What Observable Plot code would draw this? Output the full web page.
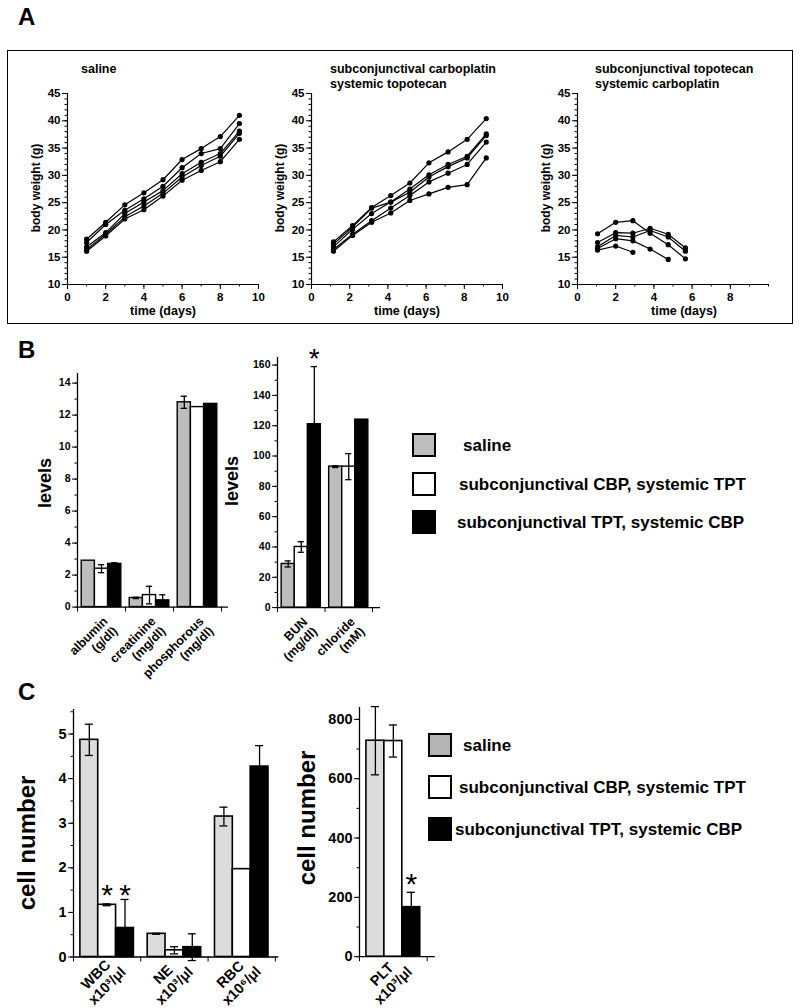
<!DOCTYPE html>
<html><head><meta charset="utf-8">
<script src="https://cdn.jsdelivr.net/npm/d3@7"></script>
<script src="https://cdn.jsdelivr.net/npm/@observablehq/plot@0.6"></script>
<style>
html,body{margin:0;padding:0;background:#fff;}
#root{position:relative;width:800px;height:1008px;overflow:hidden;background:#fff;color:#000;}
</style></head>
<body><div id="root"></div>
<script>
// ---------- DATA ----------
// Panel A: body weight (g) per mouse over time (days)
const salineDays = [1, 2, 3, 4, 5, 6, 7, 8, 9];
const salineWeights = [
  [18.3, 21.4, 24.6, 26.8, 29.2, 32.9, 34.9, 37.1, 41.0],
  [17.7, 21.0, 23.6, 25.7, 28.0, 31.4, 34.0, 34.9, 39.5],
  [16.9, 19.5, 23.0, 25.1, 27.2, 30.3, 32.4, 34.0, 38.1],
  [16.4, 19.2, 22.4, 24.4, 26.7, 29.7, 31.8, 33.5, 37.7],
  [16.1, 18.9, 22.0, 23.7, 26.2, 29.1, 30.9, 32.5, 36.6]
];
const cbpDays = [1.15, 2.15, 3.15, 4.15, 5.15, 6.15, 7.15, 8.15, 9.15];
const cbpWeights = [
  [17.8, 20.8, 24.1, 26.3, 28.6, 32.3, 34.3, 36.6, 40.4],
  [17.4, 20.5, 24.0, 25.1, 27.5, 30.1, 32.0, 33.5, 37.6],
  [16.9, 20.1, 23.0, 25.1, 26.9, 29.7, 31.6, 33.2, 37.3],
  [16.4, 19.2, 21.7, 24.0, 26.3, 28.8, 30.4, 32.0, 36.1],
  [16.1, 19.0, 21.4, 23.1, 25.4, 26.6, 27.8, 28.3, 33.2]
];
const tptDays = [1.05, 2.0, 2.9, 3.8, 4.75, 5.65];
const tptWeights = [
  [19.3, 21.4, 21.7, 19.4, 17.3, 14.7],
  [17.7, 19.5, 19.4, 20.3, 19.2, 16.7],
  [16.9, 19.0, 18.7, 19.9, 18.7, 16.1],
  [16.6, 18.4, 18.0, 16.5, 14.6],
  [16.3, 17.05, 15.9]
];
const panelATitles = [["saline"], ["subconjunctival carboplatin", "systemic topotecan"], ["subconjunctival topotecan", "systemic carboplatin"]];

// Panel B: serum chemistry
const chemLeftCats = ["albumin\n(g/dl)", "creatinine\n(mg/dl)", "phosphorous\n(mg/dl)"];
const chemLeftSaline = [2.9, 0.57, 12.8];
const chemLeftSalineErr = [0, 0.04, 0.38];
const chemLeftCbp = [2.4, 0.75, 12.5];
const chemLeftCbpErr = [0.25, 0.55, 0];
const chemLeftTpt = [2.7, 0.42, 12.7];
const chemLeftTptErr = [0.07, 0.35, 0];
const chemRightCats = ["BUN\n(mg/dl)", "chloride\n(mM)"];
const chemRightSaline = [28.8, 93];
const chemRightSalineErr = [2, 0.6];
const chemRightCbp = [40, 93];
const chemRightCbpErr = [3.5, 8.6];
const chemRightTpt = [121, 124];
const chemRightTptErr = [38, 0];
const chemRightStars = [[0, 2]];

// Panel C: blood counts
const bloodCats = ["WBC\nx10³/μl", "NE\nx10³/μl", "RBC\nx10⁶/μl"];
const bloodSaline = [4.87, 0.52, 3.15];
const bloodSalineErr = [0.35, 0.01, 0.21];
const bloodCbp = [1.17, 0.15, 1.97];
const bloodCbpErr = [0.02, 0.08, 0];
const bloodTpt = [0.65, 0.22, 4.27];
const bloodTptErr = [0.64, 0.30, 0.47];
const bloodStars = [[0, 1], [0, 2]];
const pltCats = ["PLT\nx10³/μl"];
const pltSaline = [728];
const pltSalineErr = [115];
const pltCbp = [727];
const pltCbpErr = [54];
const pltTpt = [167];
const pltTptErr = [50];
const pltStars = [[0, 2]];

const legendLabels = ["saline", "subconjunctival CBP, systemic TPT", "subconjunctival TPT, systemic CBP"];

// ---------- HELPERS ----------
const root = document.getElementById("root");
const FONT = '"Liberation Sans", Arial, Helvetica, sans-serif';
function styleStr(fs) {
  return `font-family:${FONT};font-size:${fs}px;font-weight:bold;background:transparent;overflow:visible;color:#000;max-width:none;`;
}
function place(node, x, y) {
  node.style.position = "absolute";
  node.style.left = x + "px";
  node.style.top = y + "px";
  root.appendChild(node);
}
function txt(s, x, base, fs, anchor = "start", weight = "bold") {
  const d = document.createElement("div");
  d.textContent = s;
  d.style.cssText = `position:absolute;white-space:nowrap;font:${weight} ${fs}px ${FONT};line-height:1;left:${x}px;top:${base - 0.8465 * fs}px;`;
  if (anchor === "middle") d.style.transform = "translateX(-50%)";
  if (anchor === "end") d.style.transform = "translateX(-100%)";
  root.appendChild(d);
  return d;
}
function vtxt(s, cx, cy, fs) {
  const d = document.createElement("div");
  d.textContent = s;
  d.style.cssText = `position:absolute;white-space:nowrap;font:bold ${fs}px ${FONT};line-height:1;left:${cx}px;top:${cy}px;transform:translate(-50%,-50%) rotate(-90deg);`;
  root.appendChild(d);
}
function box(x, y, w, h, fill, bw) {
  const d = document.createElement("div");
  d.style.cssText = `position:absolute;left:${x}px;top:${y}px;width:${w}px;height:${h}px;background:${fill};border:${bw}px solid #000;box-sizing:border-box;`;
  root.appendChild(d);
}

// ---------- PANEL A ----------
const pxDay = 19.1, pxG = 191 / 35;
function weightPlot(days, weights, X0, xLabelTicks) {
  const mL = 40, mR = 20, mT = 10, mB = 30;
  const rows = [];
  weights.forEach((w, m) => w.forEach((v, j) => rows.push({m, day: days[j], w: v})));
  const p = Plot.plot({
    width: 10 * pxDay + mL + mR, height: 35 * pxG + mT + mB,
    marginLeft: mL, marginRight: mR, marginTop: mT, marginBottom: mB,
    style: styleStr(11.5),
    x: {domain: [0, 10]}, y: {domain: [10, 45]},
    marks: [
      Plot.ruleX([0], {strokeWidth: 1.2}),
      Plot.ruleY([10], {strokeWidth: 1.2}),
      Plot.axisY({ticks: d3.range(10, 46, 5), tickSize: 5, tickPadding: 2, label: null}),
      Plot.axisY({ticks: d3.range(10, 46, 1), tickSize: 2.5, tickFormat: () => "", label: null}),
      Plot.axisX({ticks: xLabelTicks, tickSize: 5, tickPadding: 3, label: null}),
      Plot.axisX({ticks: d3.range(0, 11, 1), tickSize: 2.5, tickFormat: () => "", label: null}),
      Plot.line(rows, {x: "day", y: "w", z: "m", stroke: "black", strokeWidth: 1.2}),
      Plot.dot(rows, {x: "day", y: "w", r: 2.6, fill: "black"})
    ]
  });
  place(p, X0 - mL, 93 - mT);
}
// frame box
(function(){
  const d = document.createElement("div");
  d.style.cssText = "position:absolute;left:7px;top:50px;width:786px;height:274px;border:1.5px solid #000;box-sizing:border-box;";
  root.appendChild(d);
})();
txt("A", 18, 25, 24);
const aX0 = [67, 311, 577];
weightPlot(salineDays, salineWeights, aX0[0], d3.range(0, 11, 2));
weightPlot(cbpDays, cbpWeights, aX0[1], d3.range(0, 11, 2));
weightPlot(tptDays, tptWeights, aX0[2], d3.range(0, 9, 2));
const titleX = [81, 330, 595];
panelATitles.forEach((lines, k) => lines.forEach((l, j) => txt(l, titleX[k], 74 + j * 14.5, 12.5)));
const timeLabelX = [163, 407, 684];
aX0.forEach((x, k) => {
  vtxt("body weight (g)", x - 31, 188, 12);
  txt("time (days)", timeLabelX[k], 316, 12.5, "middle");
});

// ---------- BAR PLOTS ----------
function barPlot(o) {
  const mL = 60, mR = 15, mT = 30, mB = 48;
  const rows = [];
  o.vals.forEach((arr, g) => arr.forEach((v, i) => rows.push({i, g, v, e: o.errs[g][i], c: i + 0.5 + (g - 1) * o.bw})));
  const er = rows.filter(d => d.e > 0);
  const starRows = o.stars.map(([i, g]) => {
    const r = rows.find(d => d.i === i && d.g === g);
    const top = d3.max(o.stars.filter(s => s[0] === i), ([ii, gg]) => { const q = rows.find(d => d.i === ii && d.g === gg); return q.v + q.e; });
    return {c: r.c, top};
  });
  const p = Plot.plot({
    width: o.pxX * o.xMax + mL + mR, height: o.pxY * o.yMax + mT + mB,
    marginLeft: mL, marginRight: mR, marginTop: mT, marginBottom: mB,
    style: styleStr(o.fs),
    x: {domain: [0, o.xMax]}, y: {domain: [0, o.yMax]},
    color: {type: "identity"},
    marks: [
      Plot.rect(rows, {x1: d => d.c - o.bw / 2, x2: d => d.c + o.bw / 2, y1: 0, y2: "v", fill: d => o.fills[d.g], stroke: "black", strokeWidth: o.sw}),
      Plot.ruleX(er, {x: "c", y1: d => d.v - d.e, y2: d => d.v + d.e, strokeWidth: 1.3}),
      Plot.ruleY(er, {y: d => d.v + d.e, x1: d => d.c - o.cap, x2: d => d.c + o.cap, strokeWidth: 1.3}),
      Plot.ruleY(er, {y: d => d.v - d.e, x1: d => d.c - o.cap, x2: d => d.c + o.cap, strokeWidth: 1.3}),
      Plot.ruleX([0], {strokeWidth: 1.3}),
      Plot.ruleY([0], {strokeWidth: 1.3}),
      Plot.axisY({ticks: o.yMajor, tickSize: 5, tickPadding: 2, tickFormat: d3.format("d"), label: null}),
      Plot.axisY({ticks: o.yMinor, tickSize: 2.5, tickFormat: () => "", label: null}),
      Plot.axisX({ticks: d3.range(0, o.cats.length + 1), tickSize: 5, tickFormat: () => "", label: null}),
      Plot.text(o.cats, {x: (d, i) => i + 0.5, y: 0, text: d => d, rotate: -45, textAnchor: o.lblAnchor, lineAnchor: o.lblLine, dx: o.lblDx, dy: o.lblDy, fontSize: o.lblFs, lineHeight: 1.1}),
      Plot.text(starRows, {x: "c", y: "top", text: () => "*", dy: o.starDy, fontSize: o.starFs, fontWeight: "normal", lineAnchor: "middle"})
    ]
  });
  place(p, o.X0 - mL, o.Y0 - o.pxY * o.yMax - mT);
}

// ---------- PANEL B ----------
txt("B", 18, 358, 24);
const bFills = ["#bdbdbd", "#ffffff", "#000000"];
barPlot({cats: chemLeftCats, vals: [chemLeftSaline, chemLeftCbp, chemLeftTpt], errs: [chemLeftSalineErr, chemLeftCbpErr, chemLeftTptErr],
  fills: bFills, X0: 77, pxX: 48, xMax: 3.146, Y0: 607, pxY: 16, yMax: 14.6,
  yMajor: d3.range(0, 15, 2), yMinor: d3.range(0, 15, 1), bw: 0.275, cap: 0.065, sw: 1.4, fs: 10.5,
  lblAnchor: "end", lblLine: "top", lblDx: 0, lblDy: 8, lblFs: 12.5, stars: [], starDy: -8, starFs: 28});
barPlot({cats: chemRightCats, vals: [chemRightSaline, chemRightCbp, chemRightTpt], errs: [chemRightSalineErr, chemRightCbpErr, chemRightTptErr],
  fills: bFills, X0: 277, pxX: 47.5, xMax: 2.17, Y0: 607, pxY: 1.516, yMax: 165,
  yMajor: d3.range(0, 161, 20), yMinor: d3.range(0, 161, 10), bw: 0.275, cap: 0.065, sw: 1.4, fs: 10.5,
  lblAnchor: "end", lblLine: "top", lblDx: 0, lblDy: 8, lblFs: 12.5, stars: chemRightStars, starDy: -8, starFs: 28});
vtxt("levels", 45, 483, 18);
vtxt("levels", 232, 481, 18);
const bLegY = [433, 472, 510];
const bLegX = [463, 459, 457];
legendLabels.forEach((l, k) => {
  box(412, bLegY[k], 24, 24, bFills[k], 2);
  txt(l, bLegX[k], bLegY[k] + 18, 17);
});

// ---------- PANEL C ----------
txt("C", 18, 700, 24);
const cFills = ["#dcdcdc", "#ffffff", "#000000"];
barPlot({cats: bloodCats, vals: [bloodSaline, bloodCbp, bloodTpt], errs: [bloodSalineErr, bloodCbpErr, bloodTptErr],
  fills: cFills, X0: 73, pxX: 67.3, xMax: 3.05, Y0: 957, pxY: 44.6, yMax: 5.55,
  yMajor: d3.range(0, 6, 1), yMinor: d3.range(0, 5.6, 0.5), bw: 0.265, cap: 0.06, sw: 1.6, fs: 14.5,
  lblAnchor: "middle", lblLine: "middle", lblDx: -6, lblDy: 23, lblFs: 14.5, stars: bloodStars, starDy: -4, starFs: 30});
barPlot({cats: pltCats, vals: [pltSaline, pltCbp, pltTpt], errs: [pltSalineErr, pltCbpErr, pltTptErr],
  fills: cFills, X0: 359, pxX: 67.7, xMax: 1.12, Y0: 956.7, pxY: 0.2967, yMax: 840,
  yMajor: d3.range(0, 801, 200), yMinor: d3.range(0, 801, 100), bw: 0.265, cap: 0.06, sw: 1.6, fs: 14.5,
  lblAnchor: "middle", lblLine: "middle", lblDx: -6, lblDy: 23, lblFs: 14.5, stars: pltStars, starDy: -8, starFs: 30});
vtxt("cell number", 27, 843, 24);
vtxt("cell number", 307, 818, 24);
const cLegY = [733, 775, 817];
const cLegX = [463, 459, 455];
const cLegFills = ["#b4b4b4", "#ffffff", "#000000"];
legendLabels.forEach((l, k) => {
  box(428, cLegY[k], 24, 24, cLegFills[k], 2);
  txt(l, cLegX[k], cLegY[k] + 18, 17);
});
</script>
</body></html>
